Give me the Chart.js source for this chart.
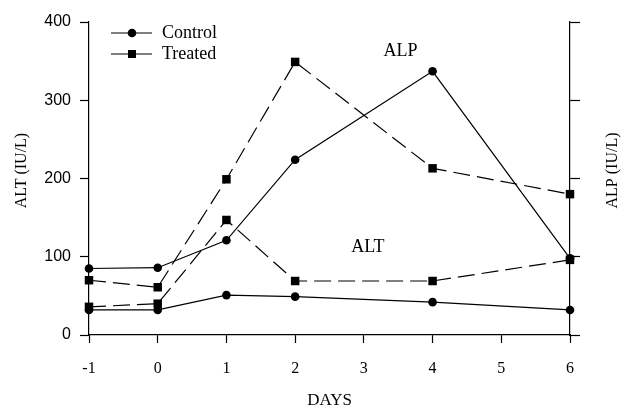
<!DOCTYPE html>
<html lang="en">
<head>
    <meta charset="UTF-8">
    <title>ALT / ALP vs Days</title>
    <script src="https://cdn.jsdelivr.net/npm/chart.js"></script>
    <style>
        body {
            margin: 0;
            padding: 0;
            background: #fff;
        }
        .chart-box {
            width: 625px;
            height: 410px;
        }
    </style>
</head>
<body>
    <div class="chart-box">
        <canvas id="enzymeChart" width="625" height="410"></canvas>
    </div>

    <script>
        // values
        const days = [-1, 0, 1, 2, 4, 6];
        const alpControl = [85, 86, 121, 224, 337, 98];
        const alpTreated = [70, 61, 199, 349, 213, 180];
        const altControl = [32, 32, 51, 49, 42, 32];
        const altTreated = [36, 40, 147, 69, 69, 96];
        const dayTicks = [-1, 0, 1, 2, 3, 4, 5, 6];
        const yTicks = [0, 100, 200, 300, 400];
        const legendNames = ['Control', 'Treated'];

        const serif = "'Liberation Serif', 'Times New Roman', serif";
        const sans = "'Liberation Sans', Arial, sans-serif";

        function toPoints(values) {
            return values.map((v, i) => ({ x: days[i], y: v }));
        }

        function series(label, values, style, dashed) {
            return {
                label: label,
                data: toPoints(values),
                borderColor: '#000',
                backgroundColor: '#000',
                borderWidth: 1.2,
                borderDash: dashed ? [17, 7] : [],
                pointStyle: style,
                pointRadius: style === 'rect' ? 6 : 4.3,
                pointBorderWidth: 0,
                tension: 0,
                clip: false
            };
        }

        // legend, axis titles and the ALP / ALT labels
        const textPlugin = {
            id: 'texts',
            afterDraw(chart) {
                const ctx = chart.ctx;
                const area = chart.chartArea;
                const x = chart.scales.x;
                const y = chart.scales.y;
                ctx.save();
                ctx.fillStyle = '#000';
                ctx.strokeStyle = '#000';
                ctx.lineWidth = 1.2;

                // legend
                ctx.font = '18px ' + serif;
                ctx.textAlign = 'left';
                ctx.textBaseline = 'middle';
                legendNames.forEach((name, i) => {
                    const ly = area.top + 11 + i * 21;
                    const lx = area.left + 22;
                    ctx.beginPath();
                    ctx.moveTo(lx, ly);
                    ctx.lineTo(lx + 41, ly);
                    ctx.stroke();
                    if (i === 0) {
                        ctx.beginPath();
                        ctx.arc(lx + 21, ly, 4.3, 0, Math.PI * 2);
                        ctx.fill();
                    } else {
                        ctx.fillRect(lx + 17, ly - 4, 8, 8);
                    }
                    ctx.fillText(name, lx + 51, ly);
                });

                // curve labels
                ctx.textAlign = 'center';
                ctx.fillText('ALP', x.getPixelForValue(4) - 32, y.getPixelForValue(362));
                ctx.fillText('ALT', x.getPixelForValue(3) + 4, y.getPixelForValue(112));

                // x title
                ctx.font = '17px ' + serif;
                ctx.fillText('DAYS', (area.left + area.right) / 2, 401);

                // y titles
                ctx.font = '16px ' + serif;
                const midY = (area.top + area.bottom) / 2 - 8;
                ctx.save();
                ctx.translate(22, midY);
                ctx.rotate(-Math.PI / 2);
                ctx.fillText('ALT (IU/L)', 0, 0);
                ctx.restore();
                ctx.save();
                ctx.translate(613, midY);
                ctx.rotate(-Math.PI / 2);
                ctx.fillText('ALP (IU/L)', 0, 0);
                ctx.restore();

                ctx.restore();
            }
        };

        const ctx = document.getElementById('enzymeChart').getContext('2d');
        new Chart(ctx, {
            type: 'line',
            data: {
                datasets: [
                    series('ALP Control', alpControl, 'circle', false),
                    series('ALP Treated', alpTreated, 'rect', true),
                    series('ALT Control', altControl, 'circle', false),
                    series('ALT Treated', altTreated, 'rect', true)
                ]
            },
            options: {
                responsive: false,
                animation: false,
                layout: { padding: { top: 22, left: 0, right: 0, bottom: 0 } },
                plugins: {
                    legend: { display: false },
                    tooltip: { enabled: false }
                },
                scales: {
                    x: {
                        type: 'linear',
                        min: -1,
                        max: 6,
                        afterFit(s) { s.height = 75; },
                        afterBuildTicks(s) { s.ticks = dayTicks.map(v => ({ value: v })); },
                        border: { color: '#000', width: 1.2 },
                        grid: { drawOnChartArea: false, color: '#000', tickLength: 8, tickWidth: 1.2 },
                        ticks: {
                            color: '#000',
                            padding: 16,
                            font: { family: serif, size: 16 }
                        }
                    },
                    y: {
                        position: 'left',
                        min: 0,
                        max: 400,
                        afterFit(s) { s.width = 89; },
                        afterBuildTicks(s) { s.ticks = yTicks.map(v => ({ value: v })); },
                        border: { color: '#000', width: 1.2 },
                        grid: { drawOnChartArea: false, color: '#000', tickLength: 9, tickWidth: 1.2 },
                        ticks: {
                            color: '#000',
                            padding: 9,
                            font: { family: sans, size: 16 }
                        }
                    },
                    y2: {
                        position: 'right',
                        min: 0,
                        max: 400,
                        afterFit(s) { s.width = 55; },
                        afterBuildTicks(s) { s.ticks = yTicks.map(v => ({ value: v })); },
                        border: { color: '#000', width: 1.2 },
                        grid: { drawOnChartArea: false, color: '#000', tickLength: 10, tickWidth: 1.2 },
                        ticks: { display: false }
                    }
                }
            },
            plugins: [textPlugin]
        });
    </script>
</body>
</html>
